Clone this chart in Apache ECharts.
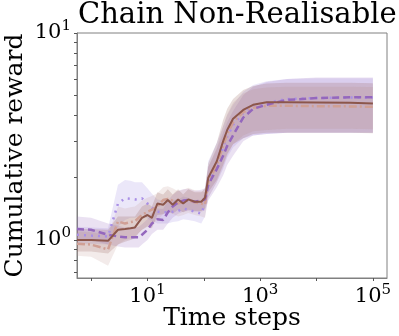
<!DOCTYPE html>
<html>
<head>
<meta charset="utf-8">
<script src="https://cdn.jsdelivr.net/npm/echarts@6/dist/echarts.min.js"></script>
<style>
	html, body { margin: 0; padding: 0; background: #fff; }
	#chart { width: 399px; height: 336px; }
</style>
</head>
<body>
<div id="chart"></div>
<script>
// time steps (first point sits on the left edge of the axis)
var steps = [0.5623, 1, 2, 3, 4, 5, 6, 7, 8, 10, 12, 15, 19, 23, 28, 35, 43, 53, 69, 90, 105, 120, 170, 220, 260, 330, 500, 750, 1300, 3000, 10000, 40000, 100000];

// brown solid
var brownMean = [1.0, 1.0, 0.99, 1.12, 1.13, 1.14, 1.15, 1.22, 1.28, 1.32, 1.28, 1.50, 1.48, 1.56, 1.48, 1.57, 1.50, 1.57, 1.53, 1.53, 1.60, 2.0, 2.4, 3.0, 3.4, 3.85, 4.25, 4.5, 4.63, 4.63, 4.62, 4.6, 4.57];
var brownLo = [0.88, 0.88, 0.86, 0.95, 0.98, 1.0, 1.02, 1.08, 1.12, 1.16, 1.14, 1.32, 1.33, 1.38, 1.34, 1.40, 1.36, 1.40, 1.38, 1.38, 1.42, 1.7, 1.95, 2.3, 2.6, 2.9, 3.1, 3.25, 3.3, 3.3, 3.3, 3.3, 3.28];
var brownHi = [1.13, 1.13, 1.12, 1.3, 1.3, 1.3, 1.3, 1.38, 1.45, 1.5, 1.45, 1.7, 1.66, 1.76, 1.66, 1.76, 1.66, 1.76, 1.70, 1.70, 1.78, 2.35, 2.95, 3.8, 4.3, 4.8, 5.3, 5.55, 5.7, 5.75, 5.75, 5.75, 5.72];

// purple dashed
var purpleMean = [1.13, 1.12, 1.06, 1.04, 1.03, 1.03, 1.03, 1.03, 1.06, 1.12, 1.2, 1.26, 1.25, 1.36, 1.45, 1.52, 1.55, 1.56, 1.53, 1.55, 1.57, 1.85, 2.2, 2.55, 2.85, 3.2, 3.9, 4.3, 4.5, 4.75, 4.85, 4.89, 4.89];
var purpleLo = [1.0, 1.0, 0.95, 0.93, 0.92, 0.92, 0.92, 0.92, 0.95, 1.0, 1.07, 1.12, 1.12, 1.2, 1.28, 1.34, 1.37, 1.38, 1.36, 1.37, 1.39, 1.55, 1.8, 2.05, 2.3, 2.55, 3.0, 3.2, 3.25, 3.3, 3.3, 3.3, 3.3];
var purpleHi = [1.3, 1.28, 1.2, 1.17, 1.15, 1.15, 1.15, 1.16, 1.19, 1.26, 1.35, 1.42, 1.41, 1.55, 1.65, 1.73, 1.76, 1.77, 1.73, 1.75, 1.78, 2.25, 2.75, 3.3, 3.7, 4.2, 5.0, 5.5, 5.8, 6.0, 6.1, 6.1, 6.1];

// light purple dotted
var lilacMean = [1.06, 1.05, 1.04, 1.50, 1.59, 1.58, 1.57, 1.58, 1.59, 1.50, 1.43, 1.37, 1.36, 1.36, 1.37, 1.38, 1.42, 1.40, 1.37, 1.34, 1.5, 1.95, 2.35, 2.8, 3.15, 3.6, 4.1, 4.4, 4.6, 4.8, 4.85, 4.88, 4.88];
var lilacLo = [0.96, 0.96, 0.95, 1.16, 1.25, 1.28, 1.28, 1.3, 1.32, 1.27, 1.24, 1.2, 1.2, 1.2, 1.22, 1.23, 1.26, 1.25, 1.23, 1.2, 1.3, 1.6, 1.9, 2.2, 2.5, 2.8, 3.1, 3.2, 3.25, 3.3, 3.3, 3.3, 3.3];
var lilacHi = [1.16, 1.15, 1.14, 1.85, 1.95, 1.93, 1.9, 1.9, 1.9, 1.78, 1.67, 1.57, 1.55, 1.55, 1.56, 1.57, 1.62, 1.6, 1.55, 1.5, 1.72, 2.4, 2.95, 3.55, 4.0, 4.5, 5.2, 5.6, 5.85, 6.0, 6.05, 6.05, 6.05];

// tan dash-dot
var tanMean = [0.96, 0.95, 0.90, 1.23, 1.20, 1.22, 1.23, 1.28, 1.32, 1.37, 1.40, 1.45, 1.56, 1.58, 1.55, 1.50, 1.53, 1.56, 1.52, 1.50, 1.48, 1.9, 2.3, 2.85, 3.25, 3.7, 4.15, 4.35, 4.45, 4.45, 4.43, 4.42, 4.4];
var tanLo = [0.84, 0.83, 0.75, 0.95, 1.0, 1.02, 1.04, 1.08, 1.12, 1.17, 1.2, 1.24, 1.34, 1.36, 1.34, 1.3, 1.32, 1.35, 1.32, 1.3, 1.28, 1.6, 1.9, 2.25, 2.55, 2.9, 3.2, 3.35, 3.4, 3.45, 3.45, 3.45, 3.43];
var tanHi = [1.1, 1.09, 1.06, 1.45, 1.42, 1.44, 1.45, 1.5, 1.55, 1.6, 1.63, 1.68, 1.8, 1.82, 1.78, 1.72, 1.75, 1.79, 1.74, 1.72, 1.7, 2.25, 2.8, 3.55, 4.05, 4.6, 5.1, 5.35, 5.45, 5.5, 5.5, 5.5, 5.48];

var xTicks = [1, 10, 100, 1000, 10000, 100000];
var xTickLabels = [10, 1000, 100000];
var yTicks = [0.7, 0.8, 0.9, 1, 2, 3, 4, 5, 6, 7, 8, 9, 10];
var yTickLabels = [1, 10];

var serif = 'DejaVu Serif';
var spineColor = '#808080';

function pairs(xs, ys) {
	var out = [];
	for (var i = 0; i < xs.length; i++) out.push([xs[i], ys[i]]);
	return out;
}

// shaded band: one polygon through the library's own coordinate system
function bandSeries(lo, hi, color, opacity) {
	var data = [];
	for (var i = 0; i < steps.length; i++) data.push([steps[i], lo[i], hi[i]]);
	return {
		type: 'custom',
		data: data,
		encode: { x: 0, y: [1, 2] },
		silent: true,
		z: 1,
		renderItem: function (params, api) {
			if (params.dataIndex !== 0) return;
			var pts = [];
			for (var i = 0; i < data.length; i++) pts.push(api.coord([data[i][0], data[i][2]]));
			for (var j = data.length - 1; j >= 0; j--) pts.push(api.coord([data[j][0], data[j][1]]));
			return {
				type: 'polygon',
				shape: { points: pts },
				style: { fill: color, opacity: opacity },
				clipPath: {
					type: 'rect',
					shape: {
						x: params.coordSys.x, y: params.coordSys.y,
						width: params.coordSys.width, height: params.coordSys.height
					}
				}
			};
		}
	};
}

function lineSeries(name, ys, color, width, dash) {
	return {
		type: 'line', name: name, data: pairs(steps, ys), symbol: 'none', z: 3,
		lineStyle: { color: color, width: width, type: dash, cap: 'butt' }
	};
}

function powLabel(v) {
	var e = Math.round(Math.log(v) / Math.LN10);
	return '{b|10}{s|' + e + '}';
}

var labelRich = {
	b: { fontFamily: serif, fontSize: 21, color: '#000' },
	s: { fontFamily: serif, fontSize: 15, color: '#000', padding: [0, 0, 13, 0] }
};

var chart = echarts.init(document.getElementById('chart'), null, { renderer: 'canvas' });

var series = [
	bandSeries(lilacLo, lilacHi, '#9d85e0', 0.2),
	bandSeries(purpleLo, purpleHi, '#9467bd', 0.2),
	bandSeries(tanLo, tanHi, '#c49c94', 0.2),
	bandSeries(brownLo, brownHi, '#8c564b', 0.2),
	lineSeries('lilac', lilacMean, '#a98fe6', 2.5, [2, 5]),
	lineSeries('tan', tanMean, '#d0a095', 2.5, [8, 3, 2, 3]),
	lineSeries('purple', purpleMean, '#9467bd', 2.5, [7, 4]),
	lineSeries('brown', brownMean, '#8c564b', 2, 'solid')
];

chart.setOption({
	animation: false,
	title: {
		text: 'Chain Non-Realisable',
		left: 73,
		top: -4,
		textStyle: { fontFamily: serif, fontWeight: 'normal', fontSize: 29, color: '#000' }
	},
	grid: {
		left: 77, right: 12, top: 33, bottom: 58,
		outerBoundsMode: 'none',
		containLabel: false,
		show: true, borderColor: spineColor, borderWidth: 1, backgroundColor: 'transparent'
	},
	xAxis: {
		type: 'log',
		logBase: 10,
		min: 0.5623,
		max: 177828,
		name: 'Time steps',
		nameLocation: 'middle',
		nameGap: 28,
		nameMoveOverlap: false,
		nameTextStyle: { fontFamily: serif, fontSize: 25, color: '#000', verticalAlign: 'top' },
		axisLine: { show: true, lineStyle: { color: spineColor, width: 1 } },
		axisTick: { show: true, customValues: xTicks, length: 3, lineStyle: { color: '#555' } },
		axisLabel: { customValues: xTickLabels, formatter: powLabel, rich: labelRich, margin: 5 },
		splitLine: { show: false },
		minorTick: { show: false }
	},
	yAxis: {
		type: 'log',
		logBase: 10,
		min: 0.655,
		max: 10,
		name: 'Cumulative reward',
		nameLocation: 'middle',
		nameGap: 49,
		nameMoveOverlap: false,
		nameTextStyle: { fontFamily: serif, fontSize: 25, color: '#000', verticalAlign: 'bottom' },
		axisLine: { show: true, lineStyle: { color: spineColor, width: 1 } },
		axisTick: { show: true, customValues: yTicks, length: 3, lineStyle: { color: '#555' } },
		axisLabel: { customValues: yTickLabels, formatter: powLabel, rich: labelRich, margin: 6 },
		splitLine: { show: false }
	},
	series: series
});
</script>
</body>
</html>
